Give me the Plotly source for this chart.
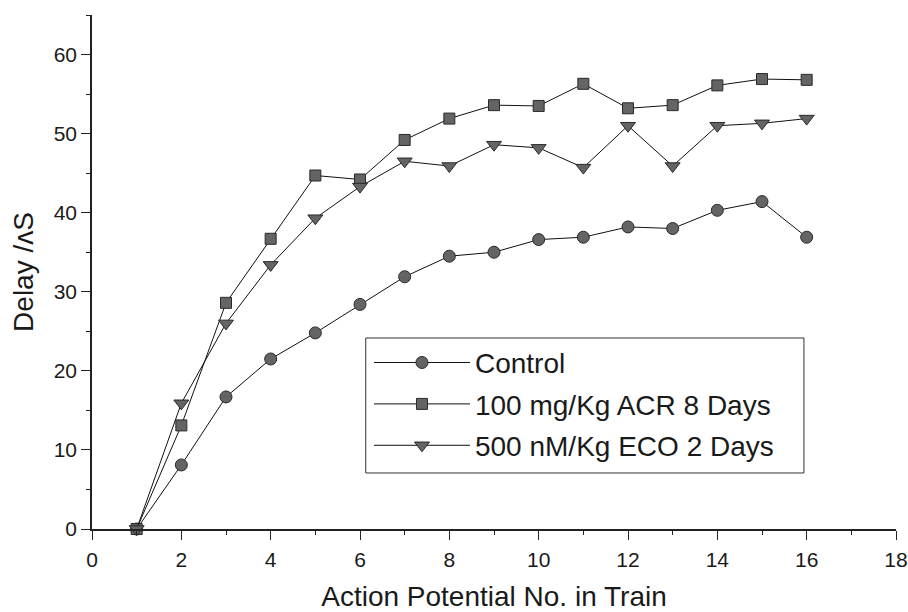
import plotly.graph_objects as go

# Action potential index within the stimulus train
ap_number = [1, 2, 3, 4, 5, 6, 7, 8, 9, 10, 11, 12, 13, 14, 15, 16]

# Conduction delay per group
control = [0, 8.1, 16.7, 21.5, 24.8, 28.4, 31.9, 34.5, 35.0, 36.6, 36.9, 38.2, 38.0, 40.3, 41.4, 36.9]
acr_8d = [0, 13.1, 28.6, 36.7, 44.7, 44.2, 49.2, 51.9, 53.6, 53.5, 56.3, 53.2, 53.6, 56.1, 56.9, 56.8]
eco_2d = [0, 15.9, 26.0, 33.4, 39.3, 43.3, 46.5, 45.9, 48.6, 48.2, 45.7, 51.0, 45.9, 51.0, 51.3, 51.9]

series_names = ["Control", "100 mg/Kg ACR 8 Days", "500 nM/Kg ECO 2 Days"]
series_values = [control, acr_8d, eco_2d]
series_symbols = ["circle", "square", "triangle-down"]
series_sizes = [12, 11, 13]

FONT = "Liberation Sans, Arial, sans-serif"

fig = go.Figure()
for i, (name, vals, sym, sz) in enumerate(zip(series_names, series_values, series_symbols, series_sizes)):
    fig.add_trace(go.Scatter(
        x=ap_number, y=vals, name=name, mode="lines+markers",
        legendgroup=f"g{i}",
        line=dict(color="#111111", width=1),
        marker=dict(symbol=sym, size=sz, color="#646464",
                    line=dict(color="#2a2a2a", width=1)),
        cliponaxis=False,
    ))

fig.update_layout(
    width=908, height=612,
    margin=dict(l=92, r=12, t=15, b=83),
    paper_bgcolor="white", plot_bgcolor="white",
    font=dict(family=FONT, color="#1a1a1a"),
    showlegend=True,
    legend=dict(
        x=0.3445, y=0.372, xanchor="left", yanchor="top",
        borderwidth=0, bgcolor="rgba(255,255,255,0)",
        font=dict(size=28, family=FONT, color="#1a1a1a"),
        itemwidth=96, traceorder="grouped", tracegroupgap=2,
    ),
    # frame drawn around the legend entries
    shapes=[dict(
        type="rect", xref="paper", yref="paper",
        x0=0.3405, x1=0.8855, y0=0.109, y1=0.3716,
        line=dict(color="#333333", width=1), fillcolor="rgba(0,0,0,0)",
        layer="above",
    )],
)

fig.update_xaxes(
    range=[0, 18], dtick=2, tick0=0, automargin=False,
    showline=True, linecolor="#222222", linewidth=1.5,
    showgrid=False, zeroline=False,
    ticks="outside", ticklen=9, tickwidth=1.2, tickcolor="#222222",
    minor=dict(dtick=1, ticks="outside", ticklen=4, tickcolor="#222222", showgrid=False),
    tickfont=dict(size=21, family=FONT),
    ticklabelstandoff=2,
    title=dict(text="Action Potential No. in Train", font=dict(size=28, family=FONT), standoff=27),
)
fig.update_yaxes(
    range=[0, 65], dtick=10, tick0=0, automargin=False,
    showline=True, linecolor="#222222", linewidth=1.5,
    showgrid=False, zeroline=False,
    ticks="outside", ticklen=9, tickwidth=1.2, tickcolor="#222222",
    minor=dict(dtick=5, ticks="outside", ticklen=4, tickcolor="#222222", showgrid=False),
    tickfont=dict(size=21, family=FONT),
    title=dict(text="Delay /ʌS", font=dict(size=28, family=FONT), standoff=12),
)

fig.write_html("out.html")
